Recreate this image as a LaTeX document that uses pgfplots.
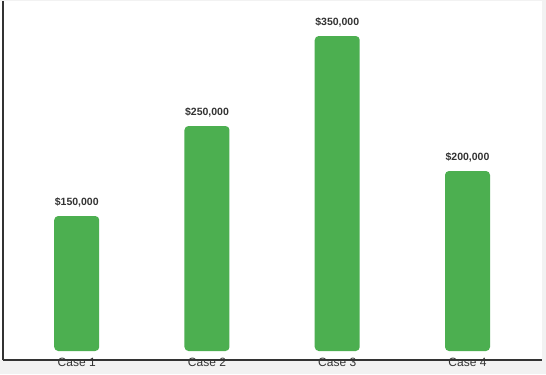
\documentclass[border=0pt]{standalone}
\usepackage{pgfplots}
\pgfplotsset{compat=1.18}
\usepackage{fontspec}
\setmainfont{Liberation Sans}
\definecolor{bargreen}{HTML}{4CAF50}
\definecolor{bggray}{HTML}{F2F2F2}
\definecolor{txt}{HTML}{333333}
\begin{document}
\begin{tikzpicture}[x=1bp,y=1bp]
\useasboundingbox (0,0) rectangle (546,374);
\fill[bggray] (0,0) rectangle (546,374);
\fill[white] (0,14) rectangle (542,373);
\begin{axis}[
  scale only axis,
  at={(3bp,14bp)}, anchor=south west,
  width=539bp, height=359bp,
  xmin=-0.566, xmax=3.572,
  ymin=-10000, ymax=388900,
  axis x line*=bottom, axis y line*=left,
  axis line style={draw=txt, line width=1.2bp, -},
  ytick=\empty,
  xtick={0,1,2,3},
  xticklabels={Case 1,Case 2,Case 3,Case 4},
  major tick length=0pt,
  xticklabel style={anchor=base, yshift=-6bp, font=\fontsize{12bp}{14bp}\selectfont, text=txt},
  ybar, bar width=45bp,
  point meta=explicit symbolic,
  nodes near coords,
  every node near coord/.append style={anchor=base, yshift=11bp, font=\fontsize{10.5bp}{12bp}\selectfont\bfseries, text=txt},
  clip=false,
]
\addplot[fill=bargreen, draw=none, rounded corners=4bp] coordinates {
  (0,150000) [\$150,000]
  (1,250000) [\$250,000]
  (2,350000) [\$350,000]
  (3,200000) [\$200,000]
};
\end{axis}
\end{tikzpicture}
\end{document}
